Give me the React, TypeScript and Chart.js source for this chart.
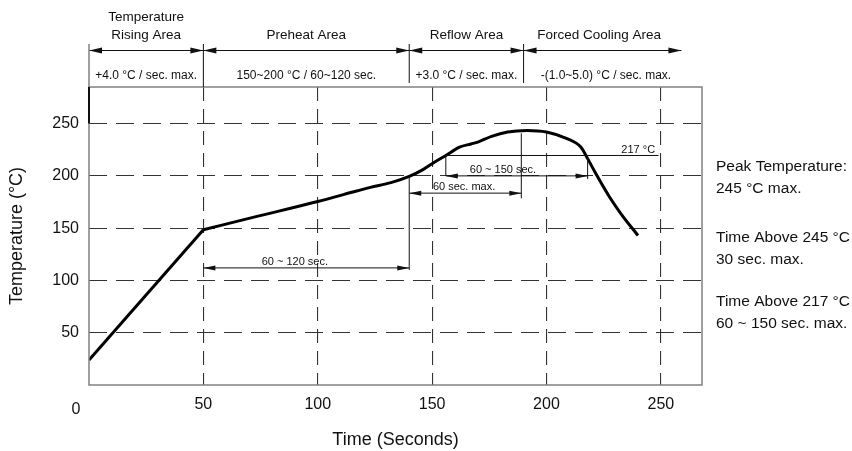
import React, { useEffect, useRef } from "react";
import { Chart, registerables } from "chart.js";

Chart.register(...registerables);

const FONT = "'Liberation Sans', Arial, sans-serif";

// Reflow profile (seconds, °C)
const rampTime = [0, 50];
const rampTemp = [24, 148.5];
const profileTime = [50, 73, 100, 117, 123, 132, 140, 146, 151, 156, 162, 167, 170, 176, 183, 191.5, 200, 209, 215, 218, 222, 227.5, 232.5, 240];
const profileTemp = [148.5, 161, 175.5, 185.5, 189, 193.5, 199.5, 206, 213, 219.5, 227.5, 230.5, 232.3, 237.8, 242, 243.5, 242, 235.6, 227.6, 216.5, 200.5, 180, 164, 143];

// Axes
const xTicks = [50, 100, 150, 200, 250];
const yTicks = [50, 100, 150, 200, 250];
const xMax = 268;
const yMax = 285;

// Zones above the plot
const zoneBounds = [0, 50, 140, 190, 259];
const zoneTitles = [["Temperature", "Rising Area"], ["Preheat Area"], ["Reflow Area"], ["Forced Cooling Area"]];
const zoneTitleCenters = [25, 95, 165, 223];
const zoneRates = ["+4.0 °C / sec. max.", "150~200 °C / 60~120 sec.", "+3.0 °C / sec. max.", "-(1.0~5.0) °C / sec. max."];
const zoneRateCenters = [25, 95, 165, 226];

// Dimension arrows inside the plot: [from s, to s, at °C]
const spanFrom = [50, 156, 140];
const spanTo = [140, 218, 189];
const spanTemp = [112, 200, 183.5];
const spanLabels = ["60 ~ 120 sec.", "60 ~ 150 sec.", "60 sec. max."];
const spanLabelAt = [90, 181, 164];

// Extension lines: [time, from °C, to °C]
const extTime = [140, 156, 218, 189];
const extFrom = [110, 200, 197, 178.5];
const extTo = [200, 219.5, 217, 240.7];

// 217 °C line
const liquidusFrom = 156;
const liquidusTo = 249;
const liquidusTemp = 219.5;
const liquidusLabel = "217 °C";
const liquidusLabelAt = 247.5;

// Notes on the right
const notes = [
  ["Peak Temperature:", "245 °C max."],
  ["Time Above 245 °C", "30 sec. max."],
  ["Time Above 217 °C", "60 ~ 150 sec. max."],
];

function head(ctx: CanvasRenderingContext2D, tipX: number, y: number, dir: number, len: number, hw: number) {
  ctx.beginPath();
  ctx.moveTo(tipX, y);
  ctx.lineTo(tipX - dir * len, y - hw);
  ctx.lineTo(tipX - dir * len, y + hw);
  ctx.closePath();
  ctx.fill();
}

function line(ctx: CanvasRenderingContext2D, x1: number, y1: number, x2: number, y2: number) {
  ctx.beginPath();
  ctx.moveTo(x1, y1);
  ctx.lineTo(x2, y2);
  ctx.stroke();
}

const annotations = {
  id: "profileAnnotations",
  afterDraw(chart: any) {
    const { ctx, chartArea, scales } = chart;
    const xs = scales.x;
    const ys = scales.y;
    const X = (v: number) => xs.getPixelForValue(v);
    const Y = (v: number) => ys.getPixelForValue(v);
    const { left, right, top, bottom } = chartArea;

    ctx.save();
    // frame
    ctx.strokeStyle = "#808080";
    ctx.lineWidth = 1.5;
    ctx.strokeRect(left, top, right - left, bottom - top);
    // dark segment on the left axis
    ctx.strokeStyle = "#111";
    ctx.lineWidth = 2;
    line(ctx, left, top, left, Y(250));

    // header
    ctx.fillStyle = "#111";
    ctx.strokeStyle = "#111";
    ctx.lineWidth = 1.2;
    const arrowY = top - 36.5;
    for (let i = 0; i < zoneBounds.length - 1; i++) {
      const a = X(zoneBounds[i]);
      const b = X(zoneBounds[i + 1]);
      line(ctx, a, arrowY, b, arrowY);
      head(ctx, a, arrowY, -1, 13, 3);
      head(ctx, b, arrowY, 1, 13, 3);
    }
    for (let i = 0; i < zoneBounds.length - 1; i++) {
      const x = X(zoneBounds[i]);
      ctx.strokeStyle = i === 0 ? "#808080" : "#111";
      ctx.lineWidth = i === 0 ? 1.5 : 1;
      line(ctx, x, top - 43, x, i <= 1 ? top : top - 4);
    }
    ctx.textAlign = "center";
    ctx.textBaseline = "middle";
    ctx.font = `13.5px ${FONT}`;
    zoneTitles.forEach((t, i) => {
      const cx = X(zoneTitleCenters[i]);
      if (t.length === 2) {
        ctx.fillText(t[0], cx, top - 70);
        ctx.fillText(t[1], cx, top - 52);
      } else {
        ctx.fillText(t[0], cx, top - 52);
      }
    });
    ctx.font = `12px ${FONT}`;
    zoneRates.forEach((t, i) => {
      ctx.fillText(t, X(zoneRateCenters[i]), top - 11);
    });

    // dimension lines in plot
    ctx.strokeStyle = "#111";
    ctx.lineWidth = 1;
    for (let i = 0; i < extTime.length; i++) {
      const x = X(extTime[i]);
      line(ctx, x, Y(extFrom[i]), x, Y(extTo[i]));
    }
    ctx.font = `11px ${FONT}`;
    for (let i = 0; i < spanFrom.length; i++) {
      const a = X(spanFrom[i]);
      const b = X(spanTo[i]);
      const y = Y(spanTemp[i]);
      line(ctx, a, y, b, y);
      head(ctx, a, y, -1, 12, 2.5);
      head(ctx, b, y, 1, 12, 2.5);
      ctx.textAlign = "center";
      ctx.fillText(spanLabels[i], X(spanLabelAt[i]), y - 6);
    }
    const ly = Y(liquidusTemp);
    line(ctx, X(liquidusFrom), ly, X(liquidusTo), ly);
    ctx.textAlign = "right";
    ctx.fillText(liquidusLabel, X(liquidusLabelAt), ly - 6);

    // origin label
    ctx.font = `16px ${FONT}`;
    ctx.textAlign = "center";
    ctx.fillText("0", X(0) - 13, Y(0) + 25);

    // notes
    ctx.font = `15.5px ${FONT}`;
    ctx.textAlign = "left";
    const noteY = [80, 151, 215];
    notes.forEach((n, i) => {
      ctx.fillText(n[0], right + 14, top + noteY[i]);
      ctx.fillText(n[1], right + 14, top + noteY[i] + 22);
    });
    ctx.restore();
  },
};

export default function App() {
  const ref = useRef<HTMLCanvasElement>(null);
  useEffect(() => {
    if (!ref.current) return;
    const chart = new Chart(ref.current, {
      type: "scatter",
      data: {
        datasets: [
          {
            data: rampTime.map((t, i) => ({ x: t, y: rampTemp[i] })),
            showLine: true,
            borderColor: "#000",
            borderWidth: 3,
            pointRadius: 0,
            tension: 0,
          },
          {
            data: profileTime.map((t, i) => ({ x: t, y: profileTemp[i] })),
            showLine: true,
            borderColor: "#000",
            borderWidth: 3,
            pointRadius: 0,
            cubicInterpolationMode: "monotone",
          },
        ],
      },
      plugins: [annotations],
      options: {
        responsive: false,
        animation: false,
        layout: { padding: { left: 0, top: 87, right: 150, bottom: 0 } },
        plugins: { legend: { display: false }, tooltip: { enabled: false } },
        scales: {
          x: {
            type: "linear",
            min: 0,
            max: xMax,
            afterBuildTicks: (s: any) => {
              s.ticks = xTicks.map((v) => ({ value: v }));
            },
            afterFit: (s: any) => {
              s.height = 66;
            },
            grid: { color: "#333", lineWidth: 1.1, drawTicks: false },
            border: { display: false, dash: [14, 8] },
            ticks: { color: "#111", padding: 10, font: { family: FONT, size: 16 }, maxRotation: 0 },
            title: {
              display: true,
              text: "Time (Seconds)",
              color: "#111",
              font: { family: FONT, size: 18 },
              padding: { top: 0, bottom: 0 },
            },
          },
          y: {
            type: "linear",
            min: 0,
            max: yMax,
            afterBuildTicks: (s: any) => {
              s.ticks = yTicks.map((v) => ({ value: v }));
            },
            afterFit: (s: any) => {
              s.width = 89;
            },
            grid: { color: "#333", lineWidth: 1.1, drawTicks: false },
            border: { display: false, dash: [18, 9] },
            ticks: { color: "#111", padding: 10, font: { family: FONT, size: 16 } },
            title: {
              display: true,
              text: "Temperature (°C)",
              color: "#111",
              font: { family: FONT, size: 18 },
              padding: { top: 6, bottom: 0 },
            },
          },
        },
      },
    } as any);
    return () => chart.destroy();
  }, []);
  return (
    <div style={{ position: "absolute", left: 0, top: 0, width: 852, height: 451, background: "#fff" }}>
      <canvas ref={ref} width={852} height={451} style={{ width: 852, height: 451 }} />
    </div>
  );
}
